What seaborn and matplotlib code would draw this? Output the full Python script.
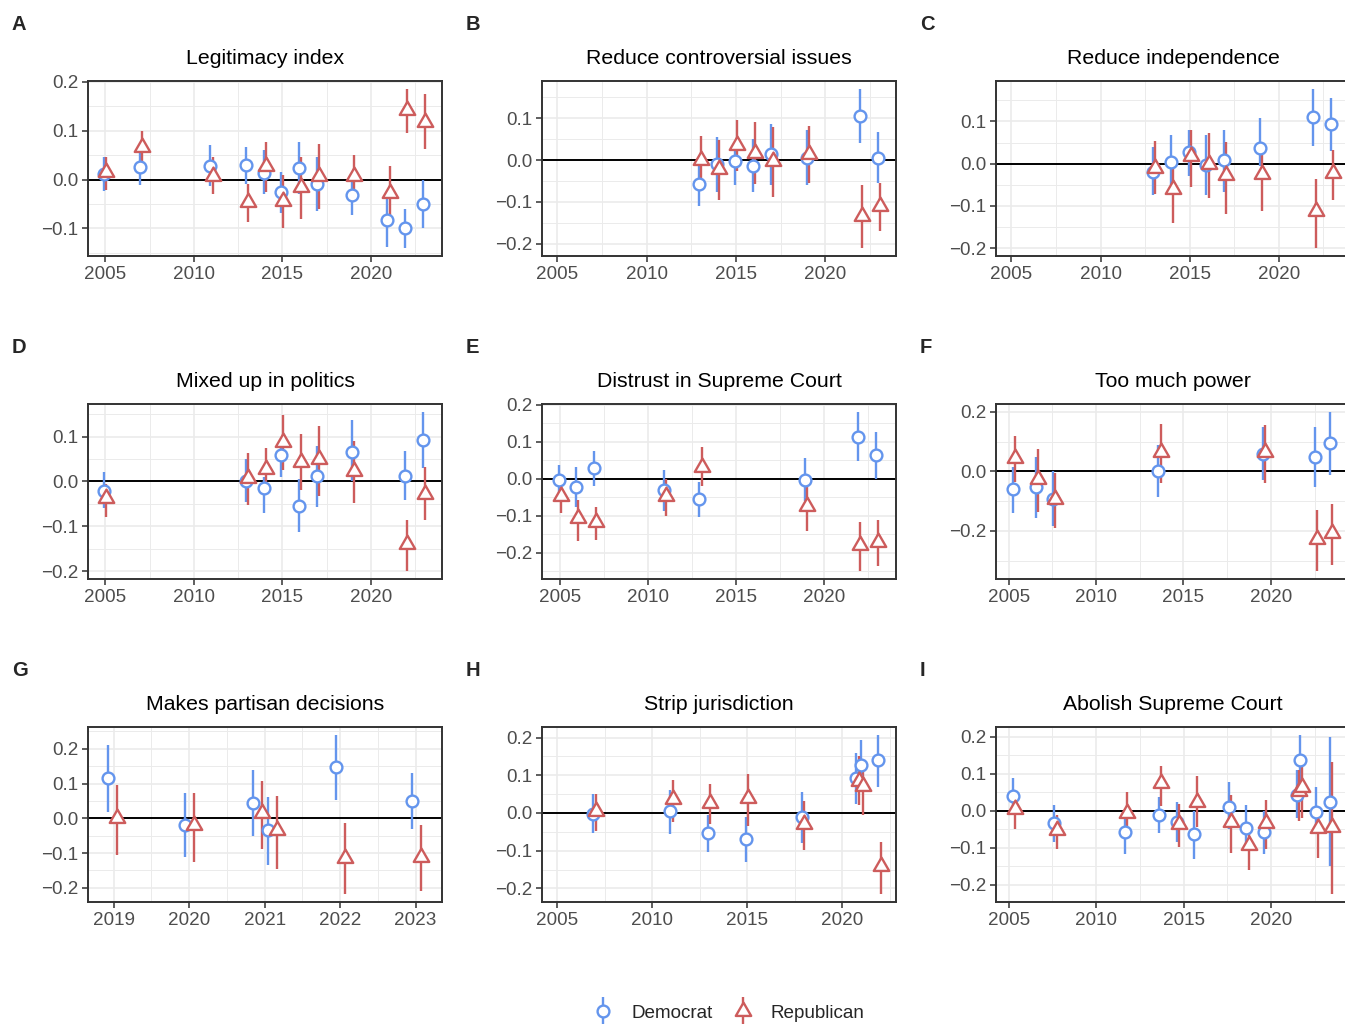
import numpy as np
import pandas as pd
import seaborn as sns
import matplotlib
matplotlib.use("Agg")
from matplotlib import pyplot as plt
from matplotlib import ticker
from matplotlib.path import Path
from matplotlib.markers import MarkerStyle
from matplotlib.lines import Line2D
from matplotlib.collections import LineCollection
from matplotlib.container import ErrorbarContainer
from matplotlib.legend_handler import HandlerErrorbar

# ---- data ----
legit_x = [2005, 2007, 2011, 2013, 2014, 2015, 2016, 2017, 2019, 2021, 2022, 2023]
legit_dem = [0.012, 0.025, 0.028, 0.029, 0.014, -0.026, 0.024, -0.009, -0.032, -0.083, -0.100, -0.050]
legit_dem_lo = [-0.024, -0.012, -0.013, -0.010, -0.030, -0.068, -0.030, -0.065, -0.072, -0.138, -0.140, -0.100]
legit_dem_hi = [0.046, 0.060, 0.070, 0.067, 0.060, 0.015, 0.077, 0.047, 0.003, -0.040, -0.060, 0.000]
legit_rep = [0.015, 0.067, 0.008, -0.045, 0.028, -0.043, -0.016, 0.007, 0.007, -0.028, 0.142, 0.118]
legit_rep_lo = [-0.022, 0.035, -0.030, -0.087, -0.025, -0.100, -0.080, -0.060, -0.030, -0.080, 0.095, 0.063]
legit_rep_hi = [0.045, 0.100, 0.045, -0.010, 0.077, 0.010, 0.045, 0.073, 0.050, 0.027, 0.185, 0.174]

contro_x = [2013, 2014, 2015, 2016, 2017, 2019, 2022, 2023]
contro_dem = [-0.056, -0.010, -0.003, -0.013, 0.014, 0.006, 0.105, 0.006]
contro_dem_lo = [-0.110, -0.075, -0.060, -0.077, -0.060, -0.060, 0.040, -0.055]
contro_dem_hi = [-0.005, 0.055, 0.040, 0.050, 0.087, 0.072, 0.170, 0.067]
contro_rep = [0.000, -0.022, 0.037, 0.017, -0.002, 0.015, -0.133, -0.110]
contro_rep_lo = [-0.050, -0.095, -0.025, -0.058, -0.088, -0.055, -0.210, -0.170]
contro_rep_hi = [0.058, 0.048, 0.097, 0.090, 0.080, 0.082, -0.060, -0.055]

indep_x = [2013, 2014, 2015, 2016, 2017, 2019, 2022, 2023]
indep_dem = [-0.020, 0.005, 0.027, -0.003, 0.008, 0.037, 0.110, 0.093]
indep_dem_lo = [-0.075, -0.050, -0.030, -0.075, -0.068, -0.005, 0.043, 0.030]
indep_dem_hi = [0.040, 0.067, 0.080, 0.067, 0.080, 0.108, 0.177, 0.155]
indep_rep = [-0.010, -0.060, 0.017, 0.000, -0.028, -0.025, -0.113, -0.022]
indep_rep_lo = [-0.073, -0.140, -0.055, -0.082, -0.120, -0.112, -0.200, -0.087]
indep_rep_hi = [0.053, 0.000, 0.080, 0.073, 0.052, 0.020, -0.036, 0.033]

mixed_x = [2005, 2013, 2014, 2015, 2016, 2017, 2019, 2022, 2023]
mixed_dem = [-0.021, 0.001, -0.015, 0.058, -0.054, 0.013, 0.066, 0.013, 0.093]
mixed_dem_lo = [-0.060, -0.045, -0.070, 0.010, -0.113, -0.058, 0.000, -0.042, 0.030]
mixed_dem_hi = [0.020, 0.050, 0.010, 0.090, 0.005, 0.080, 0.137, 0.067, 0.155]
mixed_rep = [-0.037, 0.007, 0.028, 0.088, 0.043, 0.050, 0.023, -0.140, -0.027]
mixed_rep_lo = [-0.080, -0.052, -0.010, 0.025, -0.020, -0.032, -0.048, -0.200, -0.087]
mixed_rep_hi = [-0.005, 0.063, 0.075, 0.148, 0.105, 0.123, 0.090, -0.085, 0.033]

distrust_x = [2005, 2006, 2007, 2011, 2013, 2019, 2022, 2023]
distrust_dem = [-0.005, -0.023, 0.028, -0.032, -0.055, -0.004, 0.113, 0.063]
distrust_dem_lo = [-0.050, -0.078, -0.020, -0.088, -0.105, -0.060, 0.047, 0.000]
distrust_dem_hi = [0.037, 0.030, 0.075, 0.022, -0.010, 0.055, 0.180, 0.125]
distrust_rep = [-0.048, -0.107, -0.118, -0.048, 0.032, -0.075, -0.180, -0.172]
distrust_rep_lo = [-0.093, -0.168, -0.165, -0.102, -0.020, -0.143, -0.250, -0.237]
distrust_rep_hi = [-0.020, -0.057, -0.078, 0.000, 0.085, -0.020, -0.117, -0.113]

power_x = [2005.31, 2006.63, 2007.59, 2013.63, 2019.63, 2022.61, 2023.43]
power_dem = [-0.059, -0.054, -0.093, 0.002, 0.060, 0.049, 0.097]
power_dem_lo = [-0.140, -0.155, -0.183, -0.085, -0.030, -0.053, -0.012]
power_dem_hi = [0.015, 0.047, 0.000, 0.090, 0.150, 0.148, 0.200]
power_rep = [0.045, -0.026, -0.093, 0.064, 0.064, -0.227, -0.208]
power_rep_lo = [-0.035, -0.135, -0.190, -0.040, -0.040, -0.335, -0.313]
power_rep_hi = [0.120, 0.077, -0.005, 0.160, 0.155, -0.130, -0.110]

partisan_x = [2018.99, 2020.0, 2020.905, 2021.105, 2022.005, 2023.01]
partisan_dem = [0.115, -0.020, 0.045, -0.035, 0.147, 0.051]
partisan_dem_lo = [0.018, -0.112, -0.050, -0.133, 0.053, -0.030]
partisan_dem_hi = [0.210, 0.072, 0.138, 0.060, 0.240, 0.130]
partisan_rep = [0.002, -0.018, 0.016, -0.035, -0.113, -0.110]
partisan_rep_lo = [-0.105, -0.125, -0.088, -0.145, -0.218, -0.210]
partisan_rep_hi = [0.097, 0.073, 0.107, 0.063, -0.013, -0.020]

strip_x = [2006.98, 2011.02, 2013.01, 2015.0, 2017.96, 2020.82, 2021.05, 2021.97]
strip_dem = [-0.002, 0.004, -0.052, -0.070, -0.011, 0.093, 0.127, 0.140]
strip_dem_lo = [-0.052, -0.055, -0.103, -0.130, -0.080, 0.025, 0.060, 0.070]
strip_dem_hi = [0.050, 0.062, -0.005, -0.010, 0.056, 0.160, 0.193, 0.207]
strip_rep = [0.005, 0.038, 0.027, 0.040, -0.028, 0.085, 0.072, -0.140]
strip_rep_lo = [-0.048, -0.025, -0.030, -0.035, -0.098, 0.020, -0.005, -0.215]
strip_rep_hi = [0.050, 0.088, 0.076, 0.103, 0.033, 0.150, 0.135, -0.078]

abolish_x = [2005.31, 2007.68, 2011.7, 2013.67, 2014.7, 2015.68, 2017.67, 2018.65, 2019.65, 2021.52, 2021.73, 2022.64, 2023.41]
abolish_dem = [0.039, -0.034, -0.058, -0.011, -0.030, -0.062, 0.010, -0.047, -0.058, 0.044, 0.137, -0.004, 0.024]
abolish_dem_lo = [0.000, -0.085, -0.117, -0.060, -0.085, -0.130, -0.050, -0.100, -0.118, -0.020, 0.070, -0.055, -0.150]
abolish_dem_hi = [0.090, 0.015, 0.000, 0.037, 0.025, 0.000, 0.078, 0.017, 0.000, 0.110, 0.205, 0.063, 0.200]
abolish_rep = [0.004, -0.052, -0.006, 0.074, -0.035, 0.025, -0.030, -0.092, -0.033, 0.053, 0.065, -0.047, -0.043]
abolish_rep_lo = [-0.048, -0.103, -0.040, 0.013, -0.098, -0.045, -0.115, -0.160, -0.103, -0.028, -0.020, -0.127, -0.225]
abolish_rep_hi = [0.035, -0.010, 0.050, 0.120, 0.018, 0.095, 0.043, -0.040, 0.028, 0.110, 0.120, 0.000, 0.133]

titles = ["Legitimacy index", "Reduce controversial issues", "Reduce independence",
          "Mixed up in politics", "Distrust in Supreme Court", "Too much power",
          "Makes partisan decisions", "Strip jurisdiction", "Abolish Supreme Court"]
tags = ["A", "B", "C", "D", "E", "F", "G", "H", "I"]
parties = ["Democrat", "Republican"]

# ---- style ----
DEM_COLOR = "#6495ED"
REP_COLOR = "#CD5C5C"
DODGE = 0.06
LW = 1.7
W, H = 1345, 1024

sns.set_theme(style="white")
plt.rcParams["font.family"] = ["Liberation Sans", "DejaVu Sans"]

# triangle centred on its centroid, like R's pch triangle
tri_marker = MarkerStyle(Path([(0, 1), (-0.866, -0.5), (0.866, -0.5), (0, 1)],
                              [Path.MOVETO, Path.LINETO, Path.LINETO, Path.CLOSEPOLY]))
styles = {
    "Democrat": dict(color=DEM_COLOR, marker="o", s=72, off=-DODGE),
    "Republican": dict(color=REP_COLOR, marker=tri_marker, s=165, off=DODGE),
}

panels = [
    (legit_x, legit_dem, legit_dem_lo, legit_dem_hi, legit_rep, legit_rep_lo, legit_rep_hi),
    (contro_x, contro_dem, contro_dem_lo, contro_dem_hi, contro_rep, contro_rep_lo, contro_rep_hi),
    (indep_x, indep_dem, indep_dem_lo, indep_dem_hi, indep_rep, indep_rep_lo, indep_rep_hi),
    (mixed_x, mixed_dem, mixed_dem_lo, mixed_dem_hi, mixed_rep, mixed_rep_lo, mixed_rep_hi),
    (distrust_x, distrust_dem, distrust_dem_lo, distrust_dem_hi, distrust_rep, distrust_rep_lo, distrust_rep_hi),
    (power_x, power_dem, power_dem_lo, power_dem_hi, power_rep, power_rep_lo, power_rep_hi),
    (partisan_x, partisan_dem, partisan_dem_lo, partisan_dem_hi, partisan_rep, partisan_rep_lo, partisan_rep_hi),
    (strip_x, strip_dem, strip_dem_lo, strip_dem_hi, strip_rep, strip_rep_lo, strip_rep_hi),
    (abolish_x, abolish_dem, abolish_dem_lo, abolish_dem_hi, abolish_rep, abolish_rep_lo, abolish_rep_hi),
]

xlims = [(2004.02, 2024.02), (2004.16, 2023.94), (2004.14, 2023.99),
         (2004.02, 2024.02), (2004.0, 2024.1), (2004.28, 2024.53),
         (2018.66, 2023.35), (2004.21, 2022.84), (2004.28, 2024.51)]
ysteps = [0.1, 0.1, 0.1, 0.1, 0.1, 0.2, 0.1, 0.1, 0.1]


def fmt_y(v, _):
    if abs(v) < 1e-9:
        return "0.0"
    return "{:.1f}".format(v).replace("-", "\u2212")


def long_frame(x, dem, dem_lo, dem_hi, rep, rep_lo, rep_hi):
    d1 = pd.DataFrame({"x": x, "est": dem, "lo": dem_lo, "hi": dem_hi, "party": "Democrat"})
    d2 = pd.DataFrame({"x": x, "est": rep, "lo": rep_lo, "hi": rep_hi, "party": "Republican"})
    return pd.concat([d1, d2], ignore_index=True)


fig = plt.figure(figsize=(W / 100, H / 100), dpi=100)

lefts = [88, 542, 996]
tops = [81, 404, 727]
aw, ah = 354, 175

for i, data in enumerate(panels):
    row, col = divmod(i, 3)
    ax = fig.add_axes([lefts[col] / W, 1 - (tops[row] + ah) / H, aw / W, ah / H])
    df = long_frame(*data)
    df["xd"] = df["x"] + df["party"].map({p: styles[p]["off"] for p in parties})

    ax.axhline(0, color="black", lw=1.4, zorder=1.5)
    for p in parties:
        d = df[df["party"] == p]
        ax.vlines(d["xd"], d["lo"], d["hi"], color=styles[p]["color"], lw=LW, zorder=2)
    for p in parties:
        d = df[df["party"] == p]
        st = styles[p]
        sns.scatterplot(data=d, x="xd", y="est", ax=ax, marker=st["marker"], s=st["s"],
                        color=st["color"], facecolor="white", edgecolor=st["color"],
                        linewidth=LW, zorder=3, legend=False)

    ax.set_xlabel("")
    ax.set_ylabel("")
    ax.set_xlim(*xlims[i])
    ax.margins(y=0.05)

    if i == 6:
        ax.xaxis.set_major_locator(ticker.MultipleLocator(1))
        ax.xaxis.set_minor_locator(ticker.MultipleLocator(0.5))
    else:
        ax.xaxis.set_major_locator(ticker.MultipleLocator(5))
        ax.xaxis.set_minor_locator(ticker.MultipleLocator(2.5))
    ax.xaxis.set_major_formatter(ticker.FuncFormatter(lambda v, _: "{:.0f}".format(v)))
    ax.yaxis.set_major_locator(ticker.MultipleLocator(ysteps[i]))
    ax.yaxis.set_minor_locator(ticker.MultipleLocator(ysteps[i] / 2))
    ax.yaxis.set_major_formatter(ticker.FuncFormatter(fmt_y))

    ax.grid(which="major", color="#EBEBEB", lw=1.2, zorder=0)
    ax.grid(which="minor", color="#EBEBEB", lw=0.7, zorder=0)
    ax.set_axisbelow(True)
    for sp in ax.spines.values():
        sp.set_color("#333333")
        sp.set_linewidth(1.4)
    ax.tick_params(which="major", direction="out", length=4.3, width=1.1, color="#333333",
                   labelcolor="#4D4D4D", labelsize=13.6, pad=2.8,
                   bottom=True, left=True)
    ax.tick_params(which="minor", length=0)

    ax.set_title(titles[i], fontsize=15.3, color="black", pad=12)
    fig.text((12 + 454 * col) / W, 1 - (30 + 323 * row) / H, tags[i],
             fontsize=14.5, fontweight="bold", va="baseline", ha="left")


def legend_key(color, marker, ms):
    ln = Line2D([], [], marker=marker, markersize=ms, markerfacecolor="white",
                markeredgecolor=color, markeredgewidth=LW, linestyle="none")
    bar = LineCollection([], colors=color, linewidths=LW)
    return ErrorbarContainer((ln, (), (bar,)), has_xerr=False, has_yerr=True)


handles = [legend_key(DEM_COLOR, "o", 8.5), legend_key(REP_COLOR, tri_marker, 12.8)]
fig.legend(handles, parties, loc="center", bbox_to_anchor=(729 / W, 1 - 1013 / H),
           ncol=2, frameon=False, fontsize=13.6, handlelength=1.0, handletextpad=1.0,
           columnspacing=1.1, numpoints=1,
           handler_map={ErrorbarContainer: HandlerErrorbar(xerr_size=0.75)})

fig.savefig("out.png", dpi=100)
